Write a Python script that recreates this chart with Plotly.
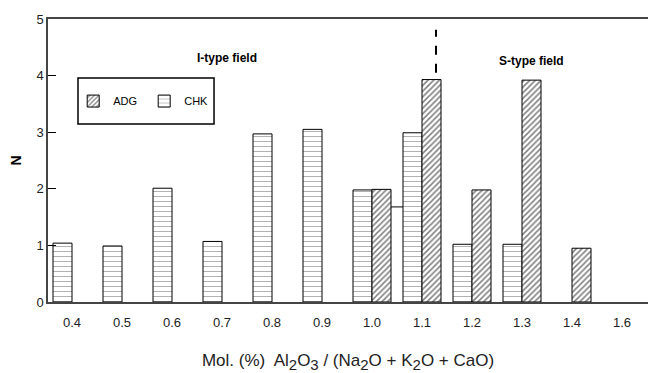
import plotly.graph_objects as go

categories = ["0.4", "0.5", "0.6", "0.7", "0.8", "0.9", "1.0", "1.1", "1.2", "1.3", "1.4", "1.6"]
chk_values = [1.04, 0.99, 2.01, 1.07, 2.97, 3.05, 1.98, 2.99, 1.02, 1.02, None, None]
adg_values = [None, None, None, None, None, None, 1.99, 3.93, 1.98, 3.92, 0.95, None]
y_ticks = [0, 1, 2, 3, 4, 5]

# boundary marker between I-type and S-type fields (axis units)
boundary_x = 7.28
boundary_y = [4.05, 4.81]
# small connector line between groups 1.0 and 1.1
connector_x = [6.38, 6.62]
connector_y = 1.68

sub = lambda s: "<sub><span style='font-size:15px'>" + s + "</span></sub>"
x_title = ("Mol. (%)&nbsp; Al" + sub("2") + "O" + sub("3") + " / (Na" + sub("2") + "O + K" + sub("2") + "O + CaO)")

fig = go.Figure()
fig.add_trace(go.Bar(
    x=categories, y=chk_values, name="CHK",
    marker=dict(color="white", line=dict(color="black", width=1),
                pattern=dict(shape="-", fgcolor="#333", bgcolor="white", size=5, solidity=0.15)),
))
fig.add_trace(go.Bar(
    x=categories, y=adg_values, name="ADG",
    marker=dict(color="white", line=dict(color="black", width=1),
                pattern=dict(shape="/", fgcolor="black", bgcolor="white", size=4, solidity=0.38)),
))

fig.add_shape(type="line", x0=boundary_x, x1=boundary_x, y0=boundary_y[0], y1=boundary_y[1],
              xref="x", yref="y", line=dict(color="black", width=2, dash="dash"))
fig.add_shape(type="line", x0=connector_x[0], x1=connector_x[1], y0=connector_y, y1=connector_y,
              xref="x", yref="y", line=dict(color="black", width=1))
# legend frame
fig.add_shape(type="rect", x0=0.05, x1=0.2767, y0=0.629, y1=0.7915, xref="paper", yref="paper",
              line=dict(color="black", width=1.5), fillcolor="rgba(0,0,0,0)")

fig.add_annotation(x=3.1, y=4.31, xref="x", yref="y", text="<b>I-type field</b>",
                   showarrow=False, font=dict(size=12, color="black", family="Liberation Sans, Arial"))
fig.add_annotation(x=9.18, y=4.26, xref="x", yref="y", text="<b>S-type field</b>",
                   showarrow=False, font=dict(size=12, color="black", family="Liberation Sans, Arial"))

fig.update_layout(
    width=648, height=373,
    margin=dict(l=48, r=0, t=19, b=71),
    paper_bgcolor="white", plot_bgcolor="white",
    barmode="group", bargap=0.24, bargroupgap=0,
    font=dict(family="Liberation Sans, Arial", size=13, color="black"),
    showlegend=True,
    legend=dict(orientation="h", x=0.042, y=0.71, xanchor="left", yanchor="middle",
                traceorder="reversed", borderwidth=0,
                bgcolor="rgba(0,0,0,0)", font=dict(size=11), entrywidth=26,
                itemwidth=30),
    xaxis=dict(type="category", range=[-0.48, 11.52], showline=True, linecolor="#444",
               linewidth=1.5, mirror=True, showgrid=False, ticks="outside", ticklen=8,
               tickcolor="rgba(0,0,0,0)", tickfont=dict(size=13, color="#222"),
               title=dict(text=x_title, font=dict(size=17, color="#222"), standoff=26)),
    yaxis=dict(range=[0, 5], tickvals=y_ticks, showline=True, linecolor="#444", linewidth=1.5,
               showgrid=False, zeroline=False, ticks="inside", ticklen=8, tickcolor="black",
               tickfont=dict(size=13, color="#222"),
               title=dict(text="<b>N</b>", font=dict(size=14, color="black"), standoff=12)),
)

fig.write_html("out.html")
